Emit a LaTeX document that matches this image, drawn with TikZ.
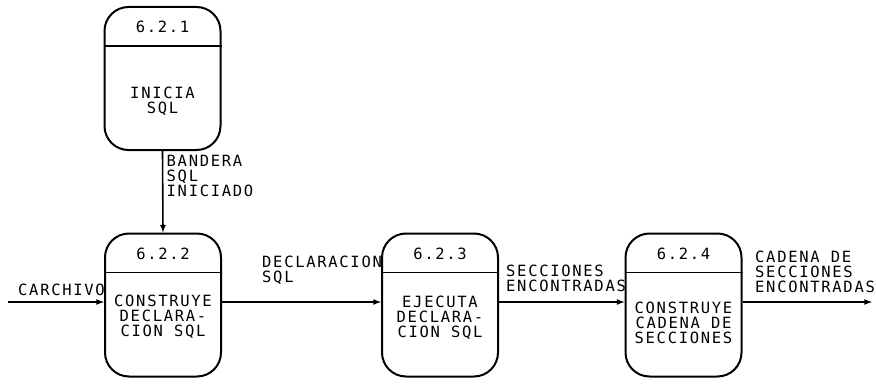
\documentclass[tikz,border=0pt]{standalone}
\usepackage{fontspec}
\setmonofont[LetterSpace=11]{DejaVu Sans Mono}
\usetikzlibrary{calc}

\tikzset{
  proceso/.style={draw, line width=2pt, rounded corners=24pt,
    minimum width=116pt, minimum height=143pt, inner sep=0pt},
  flujo/.style={-latex, line width=1.6pt},
  texto/.style={inner sep=0pt, font=\ttfamily\fontsize{15.5}{15}\selectfont},
}

\begin{document}
\begin{tikzpicture}[x=1pt,y=1pt]
    \useasboundingbox (0,0) rectangle (876,384);

    \node[proceso] at (162.5,305.5) (P1) {};
    \node[proceso] at (163,79) (P2) {};
    \node[proceso] at (440,79) (P3) {};
    \node[proceso] at (683.5,79) (P4) {};

    \foreach \p/\num in {P1/6.2.1, P2/6.2.2, P3/6.2.3, P4/6.2.4} {
      \draw[line width=1.8pt] ($(\p.north west)+(0,-40)$) -- ($(\p.north east)+(0,-40)$);
      \node[texto] at ($(\p.north)+(0,-21)$) (\p id) {\num};
    }

    \node[texto,align=center] at ($(P1.north)+(0,-95)$) (P1txt) {INICIA\\SQL};
    \node[texto,align=center] at ($(P2.north)+(0,-84)$) (P2txt) {CONSTRUYE\\DECLARA-\\CION SQL};
    \node[texto,align=center] at ($(P3.north)+(0,-85)$) (P3txt) {EJECUTA\\DECLARA-\\CION SQL};
    \node[texto,align=center] at ($(P4.north)+(0,-90)$) (P4txt) {CONSTRUYE\\CADENA DE\\SECCIONES};

    \coordinate (entrada) at (8,82);
    \coordinate (salida) at (872,82);

    \draw[flujo] (entrada) -- (entrada -| P2.west);
    \draw[flujo] (P2.east |- entrada) -- (P3.west |- entrada);
    \draw[flujo] (P3.east |- entrada) -- (P4.west |- entrada);
    \draw[flujo] (P4.east |- salida) -- (salida);
    \draw[flujo] (P1.south) -- (P2.north);

    \node[texto,anchor=south east] at ($(entrada -| P2.west)+(1,6)$) (carchivo) {CARCHIVO};
    \node[texto,align=left,anchor=south west] at (262,99) (declsql) {DECLARACION\\SQL};
    \node[texto,align=left,anchor=south west] at (506,92) (secc) {SECCIONES\\ENCONTRADAS};
    \node[texto,align=left,anchor=south west] at (755,91) (cadena) {CADENA DE\\SECCIONES\\ENCONTRADAS};
    \node[texto,align=left,anchor=north west] at ($(P1.south)+(4,-4)$) (bandera) {BANDERA\\SQL\\INICIADO};
\end{tikzpicture}
\end{document}
